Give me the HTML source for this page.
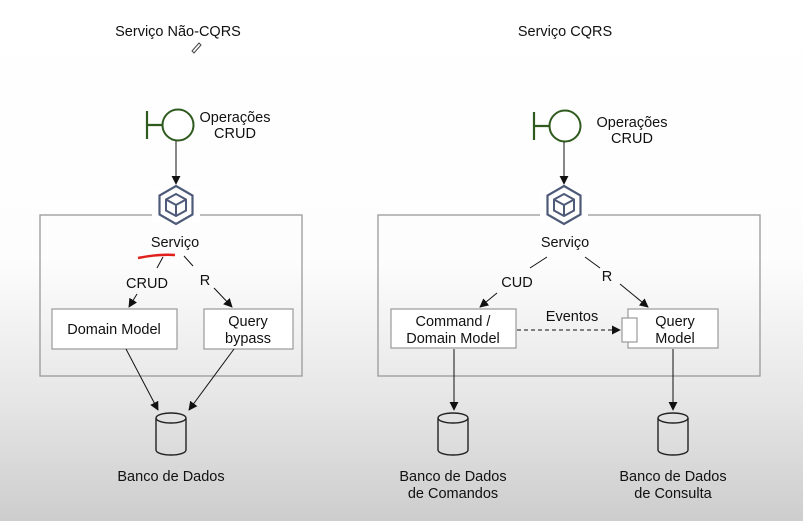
<!DOCTYPE html>
<html><head><meta charset="utf-8"><style>
html,body{margin:0;padding:0}
body{width:803px;height:521px;overflow:hidden;background:linear-gradient(to bottom,#ffffff 0px,#fdfdfd 260px,#e6e6e6 400px,#cdcdcd 521px);}
svg{display:block}
text{font-family:"Liberation Sans",Arial,sans-serif;font-size:14.5px;fill:#111;text-anchor:middle}
</style></head><body>
<svg width="803" height="521" viewBox="0 0 803 521" xmlns="http://www.w3.org/2000/svg">
<defs>
<marker id="a" viewBox="0 0 10 10" refX="9" refY="5" markerWidth="9" markerHeight="9" orient="auto"><path d="M0,0 L10,5 L0,10 z" fill="#111"/></marker>
<g id="hex"><path d="M0,-19 L16.5,-9.5 L16.5,9.5 L0,19 L-16.5,9.5 L-16.5,-9.5 Z" fill="none" stroke="#4d5a78" stroke-width="2.2"/><path d="M0,-11 L10,-5.5 L10,5.5 L0,11 L-10,5.5 L-10,-5.5 Z M-10,-5.5 L0,0 L10,-5.5 M0,0 L0,11" fill="none" stroke="#4d5a78" stroke-width="2"/></g>
<g id="cyl"><path d="M-15,-16 L-15,16 A15,5 0 0 0 15,16 L15,-16" fill="none" stroke="#222" stroke-width="1.4"/><ellipse cx="0" cy="-16" rx="15" ry="5" fill="none" stroke="#222" stroke-width="1.4"/></g>
<g id="iface"><path d="M-31,-14 L-31,14 M-31,0 L-15.5,0" stroke="#2f5a1e" stroke-width="2.2" fill="none"/><circle cx="0" cy="0" r="15.5" fill="#fff" stroke="#2f5a1e" stroke-width="2"/></g>
</defs>
<text x="178" y="36">Serviço Não-CQRS</text>
<text x="565" y="36">Serviço CQRS</text>
<path d="M192,51 L199,43 L201,45 L194,53 Z" fill="none" stroke="#444" stroke-width="1"/>

<!-- left -->
<rect x="40" y="215" width="262" height="161" fill="none" stroke="#999" stroke-width="1.3"/>
<rect x="152" y="190" width="48" height="32" fill="#fff"/>
<use href="#iface" x="178" y="125"/>
<text x="235" y="122">Operações</text><text x="235" y="138">CRUD</text>
<line x1="176" y1="141" x2="176" y2="184" stroke="#111" marker-end="url(#a)"/>
<use href="#hex" x="176" y="205"/>
<text x="175" y="247">Serviço</text>
<path d="M138,258 Q158,254 175,255" stroke="#e0211b" stroke-width="2.5" fill="none"/>
<line x1="163" y1="257" x2="157" y2="268" stroke="#111"/>
<line x1="184" y1="256" x2="193" y2="266" stroke="#111"/>
<text x="147" y="288">CRUD</text><text x="205" y="285">R</text>
<line x1="137" y1="294" x2="129" y2="307" stroke="#111" marker-end="url(#a)"/>
<line x1="214" y1="288" x2="232" y2="307" stroke="#111" marker-end="url(#a)"/>
<rect x="52" y="309" width="125" height="40" fill="#fff" stroke="#999" stroke-width="1.2"/>
<text x="114" y="334">Domain Model</text>
<rect x="204" y="309" width="89" height="40" fill="#fff" stroke="#999" stroke-width="1.2"/>
<text x="248" y="326">Query</text><text x="248" y="343">bypass</text>
<line x1="126" y1="349" x2="158" y2="410" stroke="#111" marker-end="url(#a)"/>
<line x1="234" y1="349" x2="189" y2="410" stroke="#111" marker-end="url(#a)"/>
<use href="#cyl" x="171" y="434"/>
<text x="171" y="481">Banco de Dados</text>

<!-- right -->
<rect x="378" y="215" width="382" height="161" fill="none" stroke="#999" stroke-width="1.3"/>
<rect x="540" y="190" width="48" height="32" fill="#fff"/>
<use href="#iface" x="565" y="126"/>
<text x="632" y="127">Operações</text><text x="632" y="143">CRUD</text>
<line x1="564" y1="142" x2="564" y2="184" stroke="#111" marker-end="url(#a)"/>
<use href="#hex" x="564" y="205"/>
<text x="565" y="247">Serviço</text>
<line x1="547" y1="257" x2="530" y2="268" stroke="#111"/>
<line x1="585" y1="257" x2="600" y2="268" stroke="#111"/>
<text x="517" y="287">CUD</text><text x="607" y="281">R</text>
<line x1="497" y1="293" x2="480" y2="307" stroke="#111" marker-end="url(#a)"/>
<line x1="620" y1="284" x2="648" y2="307" stroke="#111" marker-end="url(#a)"/>
<rect x="391" y="309" width="125" height="39" fill="#fff" stroke="#999" stroke-width="1.2"/>
<text x="453" y="326">Command /</text><text x="453" y="343">Domain Model</text>
<rect x="628" y="309" width="90" height="39" fill="#fff" stroke="#999" stroke-width="1.2"/>
<rect x="622" y="318" width="15" height="24" fill="#fff" stroke="#999" stroke-width="1.2"/>
<text x="675" y="326">Query</text><text x="675" y="343">Model</text>
<line x1="517" y1="330" x2="620" y2="330" stroke="#111" stroke-dasharray="4,3" marker-end="url(#a)"/>
<text x="572" y="321">Eventos</text>
<line x1="454" y1="349" x2="454" y2="410" stroke="#111" marker-end="url(#a)"/>
<line x1="673" y1="349" x2="673" y2="410" stroke="#111" marker-end="url(#a)"/>
<use href="#cyl" x="453" y="434"/>
<use href="#cyl" x="673" y="434"/>
<text x="453" y="481">Banco de Dados</text><text x="453" y="498">de Comandos</text>
<text x="673" y="481">Banco de Dados</text><text x="673" y="498">de Consulta</text>
</svg>
</body></html>
